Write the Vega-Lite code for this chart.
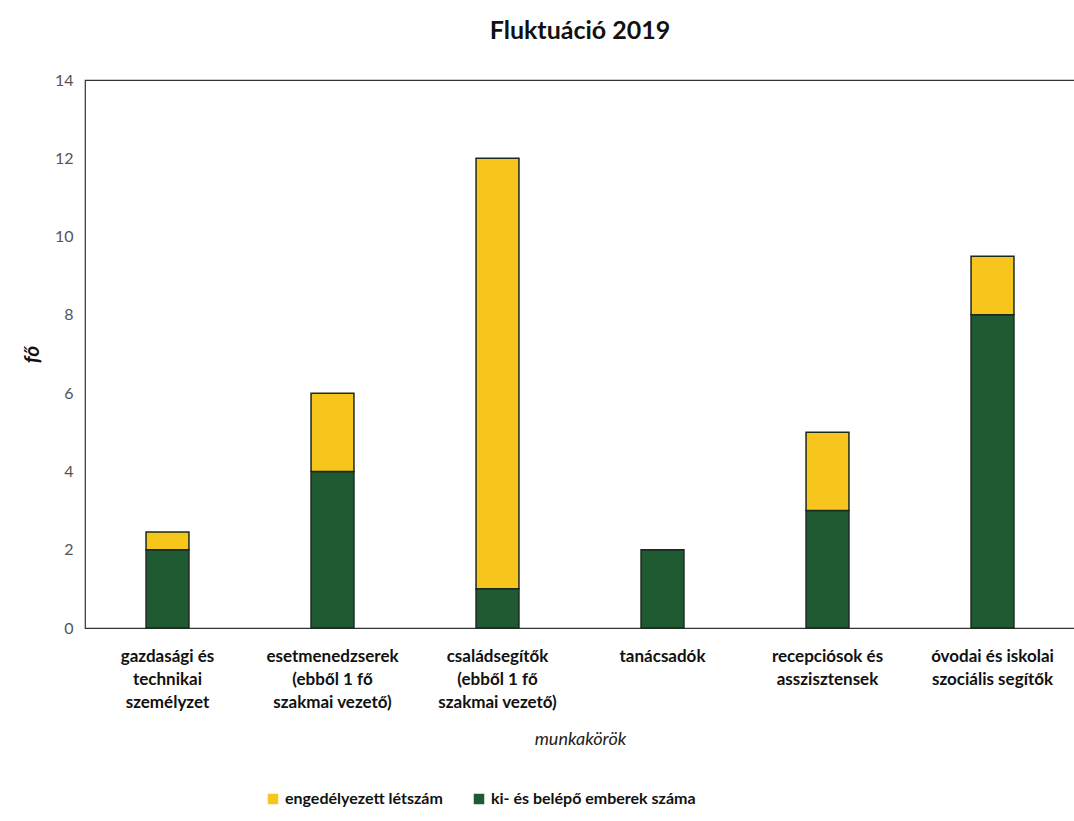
{
  "$schema": "https://vega.github.io/schema/vega-lite/v6.json",
  "autosize": "none",
  "padding": {"left": 85, "top": 80, "right": 0, "bottom": 193},
  "width": 990,
  "height": 548,
  "background": "white",
  "title": {"text": "Fluktuáció 2019", "font": "Lato", "fontSize": 25, "fontWeight": "bold", "color": "#111", "offset": 28, "anchor": "middle", "frame": "group"},
  "config": {
    "view": {"stroke": "#333", "strokeWidth": 1.2},
    "font": "Lato"
  },
  "data": {
    "values": [
      {"munkakor": "gazdasági és|technikai|személyzet", "series": "ki- és belépő emberek száma", "fo": 2},
      {"munkakor": "gazdasági és|technikai|személyzet", "series": "engedélyezett létszám", "fo": 0.45},
      {"munkakor": "esetmenedzserek|(ebből 1 fő|szakmai vezető)", "series": "ki- és belépő emberek száma", "fo": 4},
      {"munkakor": "esetmenedzserek|(ebből 1 fő|szakmai vezető)", "series": "engedélyezett létszám", "fo": 2},
      {"munkakor": "családsegítők|(ebből 1 fő|szakmai vezető)", "series": "ki- és belépő emberek száma", "fo": 1},
      {"munkakor": "családsegítők|(ebből 1 fő|szakmai vezető)", "series": "engedélyezett létszám", "fo": 11},
      {"munkakor": "tanácsadók", "series": "ki- és belépő emberek száma", "fo": 2},
      {"munkakor": "tanácsadók", "series": "engedélyezett létszám", "fo": 0},
      {"munkakor": "recepciósok és|asszisztensek", "series": "ki- és belépő emberek száma", "fo": 3},
      {"munkakor": "recepciósok és|asszisztensek", "series": "engedélyezett létszám", "fo": 2},
      {"munkakor": "óvodai és iskolai|szociális segítők", "series": "ki- és belépő emberek száma", "fo": 8},
      {"munkakor": "óvodai és iskolai|szociális segítők", "series": "engedélyezett létszám", "fo": 1.5}
    ]
  },
  "mark": {"type": "bar", "stroke": "#1b2a1e", "strokeWidth": 1.5},
  "encoding": {
    "x": {
      "field": "munkakor", "type": "nominal", "sort": null,
      "scale": {"paddingInner": 0.74, "paddingOuter": 0.37},
      "axis": {
        "title": "munkakörök", "titleFont": "Lato", "titleFontStyle": "italic", "titleFontWeight": "normal", "titleFontSize": 18, "titleColor": "#222", "titlePadding": 20,
        "labelExpr": "split(datum.value, '|')", "labelAngle": 0, "labelFont": "Lato", "labelFontWeight": "bold", "labelFontSize": 17, "labelColor": "#111", "labelLineHeight": 23, "labelPadding": 20, "labelLimit": 200,
        "ticks": false, "domain": false
      }
    },
    "y": {
      "field": "fo", "type": "quantitative", "stack": "zero",
      "scale": {"domain": [0, 14]},
      "axis": {
        "title": "fő", "titleFont": "Lato", "titleFontStyle": "italic", "titleFontWeight": "bold", "titleFontSize": 21, "titleColor": "#111", "titlePadding": 12,
        "values": [0, 2, 4, 6, 8, 10, 12, 14], "grid": false, "ticks": false, "domain": false,
        "labelFont": "Lato", "labelFontSize": 16, "labelColor": "#555", "labelPadding": 12
      }
    },
    "color": {
      "field": "series", "type": "nominal",
      "scale": {"domain": ["engedélyezett létszám", "ki- és belépő emberek száma"], "range": ["#f6c61c", "#1f5a33"]},
      "legend": {
        "title": null, "orient": "none", "legendX": 180, "legendY": 711, "direction": "horizontal", "symbolType": "square", "symbolSize": 110, "symbolStrokeWidth": 0,
        "labelFont": "Lato", "labelFontWeight": "bold", "labelFontSize": 16, "labelColor": "#111", "labelLimit": 400, "columnPadding": 28
      }
    },
    "order": {"field": "series", "sort": "descending"}
  }
}
